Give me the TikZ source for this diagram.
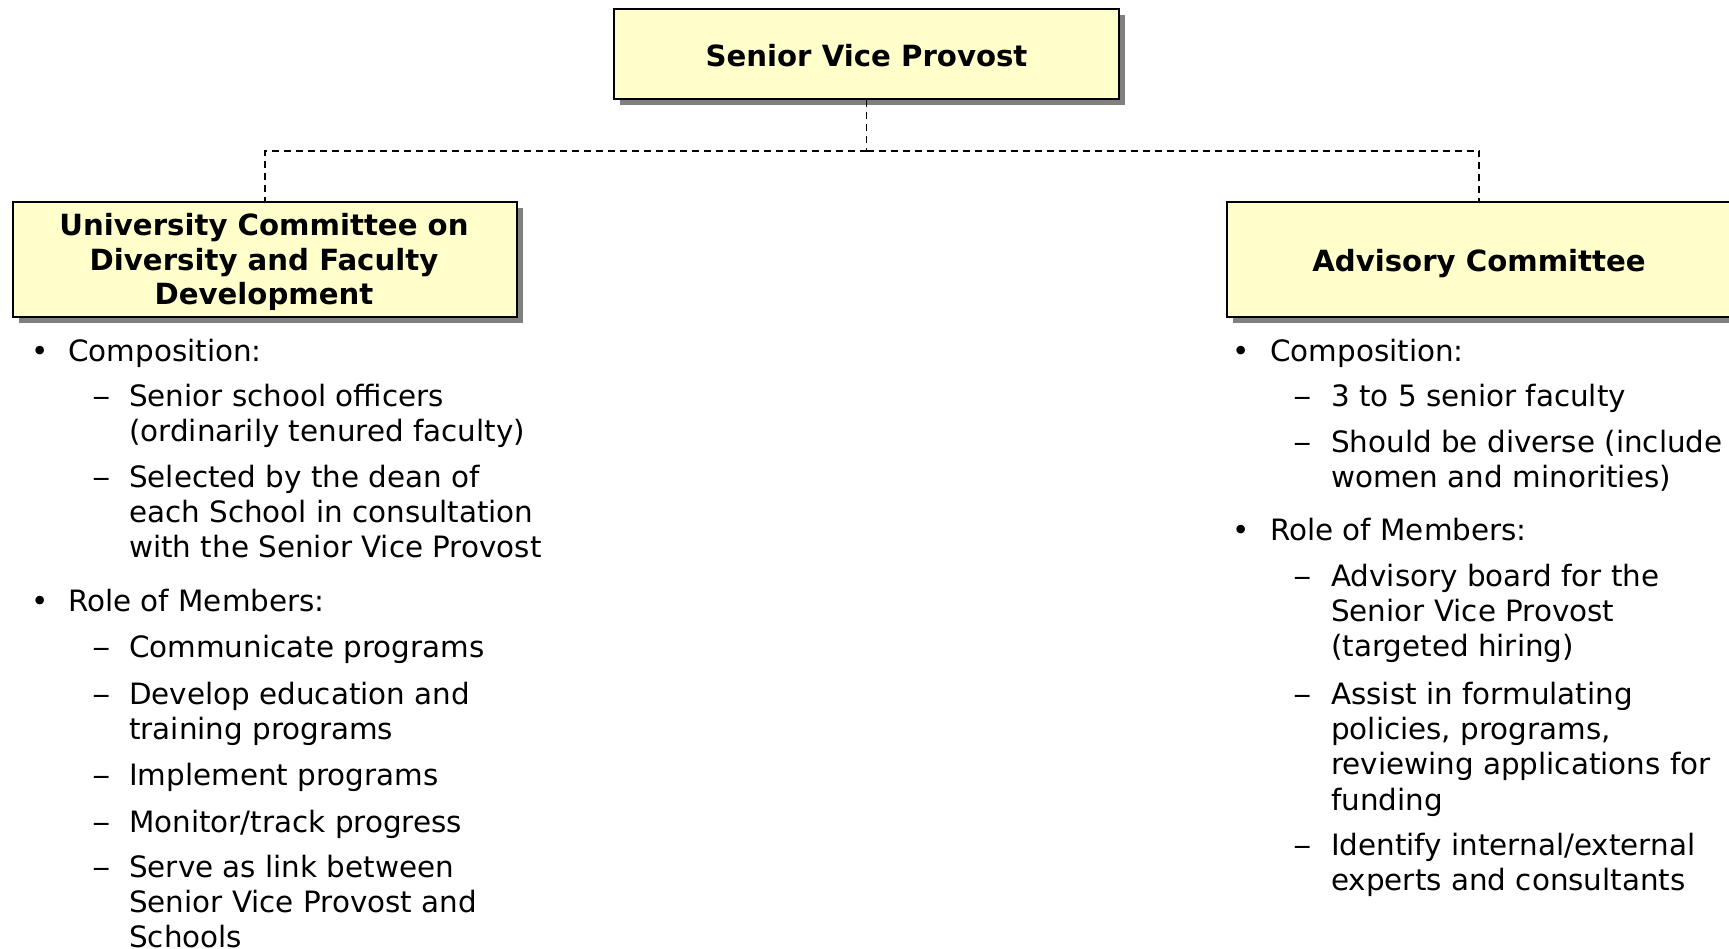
\documentclass[tikz,border=0pt]{standalone}
\usepackage{fontspec}
\usepackage{graphicx}
\setmainfont{DejaVu Sans}
\usetikzlibrary{shadows,calc}
\definecolor{boxfill}{RGB}{255,255,204}
\definecolor{shadowgray}{RGB}{128,128,128}
\newcommand{\leftlines}[1]{\begin{tabular}[t]{@{}l@{}}#1\end{tabular}}
\newcommand{\centerlines}[1]{\begin{tabular}[t]{@{}c@{}}#1\end{tabular}}
\newcommand{\subdash}{\scalebox{1.25}[1]{–}}
\tikzset{
  orgbox/.style={draw=black, line width=1.6pt, fill=boxfill, inner sep=0pt,
    drop shadow={shadow xshift=6pt, shadow yshift=-6pt, fill=shadowgray, opacity=1}},
  titletext/.style={anchor=base, inner sep=0pt, font=\fontsize{29.2}{34.6}\selectfont\bfseries},
  conn/.style={line width=1.5pt, dash pattern=on 7pt off 5pt},
  itemtext/.style={anchor=base west, inner sep=0pt, font=\fontsize{29.4}{35.2}\selectfont},
  bulletmark/.style={anchor=base west, inner sep=0pt, font=\fontsize{29.4}{35.2}\selectfont},
}
\begin{document}
\begin{tikzpicture}[x=1pt,y=-1pt]
\path[use as bounding box, clip] (0,0) rectangle (1729,948);
\fill[white] (0,0) rectangle (1729,948);

% boxes
\node[orgbox, minimum width=505pt, minimum height=90pt] (svp) at (866.5,54) {};
\node[orgbox, minimum width=504pt, minimum height=115pt] (ucd) at (265,259.5) {};
\node[orgbox, minimum width=510pt, minimum height=115pt] (adv) at (1482,259.5) {};

% titles
\node[titletext] (svpt) at (866.5,66) {Senior Vice Provost};
\node[titletext] (ucdt) at (264,235.5) {\centerlines{University Committee on\\Diversity and Faculty\\Development}};
\node[titletext] (advt) at (1479,271) {Advisory Committee};

% connectors
\coordinate (junc) at ($(svp.south)+(0,51)$);
\draw[conn] (svp.south) -- (junc);
\draw[conn] (junc) -| (ucd.north);
\draw[conn] (junc) -| ([xshift=-3pt]adv.north);

% left list
\node[bulletmark] (lb1) at (31.5,361.5) {•};
\node[itemtext] (l1) at (68,361.5) {Composition:};
\node[bulletmark] (ld1) at (92,406.5) {\subdash};
\node[itemtext] (l11) at (129,406.5) {\leftlines{Senior school officers\\(ordinarily tenured faculty)}};
\node[bulletmark] (ld2) at (92,487.5) {\subdash};
\node[itemtext] (l12) at (129,487.5) {\leftlines{Selected by the dean of\\each School in consultation\\with the Senior Vice Provost}};
\node[bulletmark] (lb2) at (31.5,611.5) {•};
\node[itemtext] (l2) at (68,611.5) {Role of Members:};
\node[bulletmark] (ld3) at (92,657.5) {\subdash};
\node[itemtext] (l21) at (129,657.5) {Communicate programs};
\node[bulletmark] (ld4) at (92,704.5) {\subdash};
\node[itemtext] (l22) at (129,704.5) {\leftlines{Develop education and\\training programs}};
\node[bulletmark] (ld5) at (92,785.5) {\subdash};
\node[itemtext] (l23) at (129,785.5) {Implement programs};
\node[bulletmark] (ld6) at (92,832) {\subdash};
\node[itemtext] (l24) at (129,832) {Monitor/track progress};
\node[bulletmark] (ld7) at (92,877.5) {\subdash};
\node[itemtext] (l25) at (129,877.5) {\leftlines{Serve as link between\\Senior Vice Provost and\\Schools}};

% right list
\node[bulletmark] (rb1) at (1232.5,361.5) {•};
\node[itemtext] (r1) at (1270,361.5) {Composition:};
\node[bulletmark] (rd1) at (1293,406.5) {\subdash};
\node[itemtext] (r11) at (1331,406.5) {3 to 5 senior faculty};
\node[bulletmark] (rd2) at (1293,452.5) {\subdash};
\node[itemtext] (r12) at (1331,452.5) {\leftlines{Should be diverse (include\\women and minorities)}};
\node[bulletmark] (rb2) at (1232.5,540.5) {•};
\node[itemtext] (r2) at (1270,540.5) {Role of Members:};
\node[bulletmark] (rd3) at (1293,586.5) {\subdash};
\node[itemtext] (r21) at (1331,586.5) {\leftlines{Advisory board for the\\Senior Vice Provost\\(targeted hiring)}};
\node[bulletmark] (rd4) at (1293,704.5) {\subdash};
\node[itemtext] (r22) at (1331,704.5) {\leftlines{Assist in formulating\\policies, programs,\\reviewing applications for\\funding}};
\node[bulletmark] (rd5) at (1293,855.5) {\subdash};
\node[itemtext] (r23) at (1331,855.5) {\leftlines{Identify internal/external\\experts and consultants}};
\end{tikzpicture}
\end{document}
